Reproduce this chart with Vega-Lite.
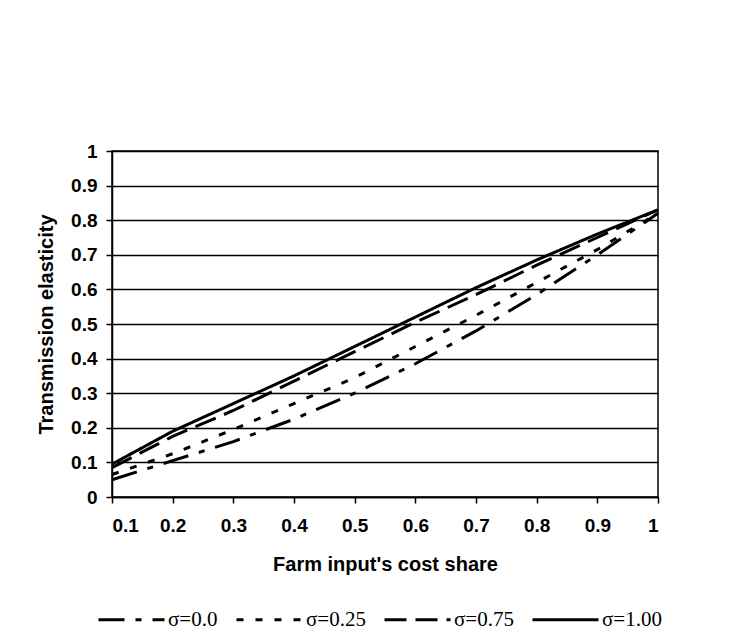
{
  "$schema": "https://vega.github.io/schema/vega-lite/v6.json",
  "autosize": {"type": "none"},
  "padding": {"left": 112, "top": 151, "right": 97, "bottom": 140},
  "width": 546,
  "height": 346,
  "background": "white",
  "data": {
    "values": [
      {"share": 0.1, "series": "σ=1.00", "elasticity": 0.095},
      {"share": 0.2, "series": "σ=1.00", "elasticity": 0.19},
      {"share": 0.3, "series": "σ=1.00", "elasticity": 0.27},
      {"share": 0.4, "series": "σ=1.00", "elasticity": 0.35},
      {"share": 0.5, "series": "σ=1.00", "elasticity": 0.435},
      {"share": 0.6, "series": "σ=1.00", "elasticity": 0.52},
      {"share": 0.7, "series": "σ=1.00", "elasticity": 0.605},
      {"share": 0.8, "series": "σ=1.00", "elasticity": 0.685},
      {"share": 0.9, "series": "σ=1.00", "elasticity": 0.76},
      {"share": 1.0, "series": "σ=1.00", "elasticity": 0.83},
      {"share": 0.1, "series": "σ=0.75", "elasticity": 0.085},
      {"share": 0.2, "series": "σ=0.75", "elasticity": 0.175},
      {"share": 0.3, "series": "σ=0.75", "elasticity": 0.25},
      {"share": 0.4, "series": "σ=0.75", "elasticity": 0.335},
      {"share": 0.5, "series": "σ=0.75", "elasticity": 0.42},
      {"share": 0.6, "series": "σ=0.75", "elasticity": 0.505},
      {"share": 0.7, "series": "σ=0.75", "elasticity": 0.585},
      {"share": 0.8, "series": "σ=0.75", "elasticity": 0.67},
      {"share": 0.9, "series": "σ=0.75", "elasticity": 0.75},
      {"share": 1.0, "series": "σ=0.75", "elasticity": 0.83},
      {"share": 0.1, "series": "σ=0.25", "elasticity": 0.065},
      {"share": 0.2, "series": "σ=0.25", "elasticity": 0.125},
      {"share": 0.3, "series": "σ=0.25", "elasticity": 0.195},
      {"share": 0.4, "series": "σ=0.25", "elasticity": 0.27},
      {"share": 0.5, "series": "σ=0.25", "elasticity": 0.345},
      {"share": 0.6, "series": "σ=0.25", "elasticity": 0.435},
      {"share": 0.7, "series": "σ=0.25", "elasticity": 0.525},
      {"share": 0.8, "series": "σ=0.25", "elasticity": 0.62},
      {"share": 0.9, "series": "σ=0.25", "elasticity": 0.715},
      {"share": 1.0, "series": "σ=0.25", "elasticity": 0.82},
      {"share": 0.1, "series": "σ=0.0", "elasticity": 0.05},
      {"share": 0.2, "series": "σ=0.0", "elasticity": 0.105},
      {"share": 0.3, "series": "σ=0.0", "elasticity": 0.16},
      {"share": 0.4, "series": "σ=0.0", "elasticity": 0.225},
      {"share": 0.5, "series": "σ=0.0", "elasticity": 0.3},
      {"share": 0.6, "series": "σ=0.0", "elasticity": 0.385},
      {"share": 0.7, "series": "σ=0.0", "elasticity": 0.48},
      {"share": 0.8, "series": "σ=0.0", "elasticity": 0.585},
      {"share": 0.9, "series": "σ=0.0", "elasticity": 0.7},
      {"share": 1.0, "series": "σ=0.0", "elasticity": 0.82}
    ]
  },
  "mark": {"type": "line", "color": "black", "strokeWidth": 3, "clip": false},
  "encoding": {
    "x": {
      "field": "share",
      "type": "quantitative",
      "scale": {"domain": [0.1, 1], "nice": false, "zero": false},
      "axis": {
        "title": "Farm input's cost share",
        "values": [0.1, 0.2, 0.3, 0.4, 0.5, 0.6, 0.7, 0.8, 0.9, 1],
        "format": "~g",
        "grid": false,
        "labelPadding": 13,
        "titlePadding": 19
      }
    },
    "y": {
      "field": "elasticity",
      "type": "quantitative",
      "scale": {"domain": [0, 1], "nice": false},
      "axis": {
        "title": "Transmission elasticity",
        "values": [0, 0.1, 0.2, 0.3, 0.4, 0.5, 0.6, 0.7, 0.8, 0.9, 1],
        "format": "~g",
        "grid": true,
        "labelPadding": 9,
        "titlePadding": 14
      }
    },
    "strokeDash": {
      "field": "series",
      "type": "nominal",
      "scale": {
        "domain": ["σ=0.0", "σ=0.25", "σ=0.75", "σ=1.00"],
        "range": [[26, 11, 6, 11], [7, 12], [22, 9], [1, 0]]
      },
      "legend": {
        "title": null,
        "orient": "none",
        "direction": "horizontal",
        "legendX": -15,
        "legendY": 434,
        "symbolType": "stroke",
        "symbolSize": 4356,
        "symbolStrokeWidth": 3,
        "symbolStrokeColor": "black",
        "labelFont": "Liberation Serif",
        "labelFontSize": 21,
        "labelColor": "black",
        "labelOffset": 2,
        "columnPadding": 12,
        "padding": 0
      }
    }
  },
  "config": {
    "view": {"stroke": "black", "strokeWidth": 1.5},
    "axis": {
      "domainColor": "black",
      "domainWidth": 1.5,
      "tickColor": "black",
      "tickWidth": 1.5,
      "tickSize": 6,
      "gridColor": "black",
      "gridWidth": 1.3,
      "gridOpacity": 1,
      "labelFont": "Liberation Sans",
      "labelFontWeight": "bold",
      "labelFontSize": 19,
      "labelColor": "black",
      "titleFont": "Liberation Sans",
      "titleFontWeight": "bold",
      "titleFontSize": 20,
      "titleColor": "black"
    }
  }
}
